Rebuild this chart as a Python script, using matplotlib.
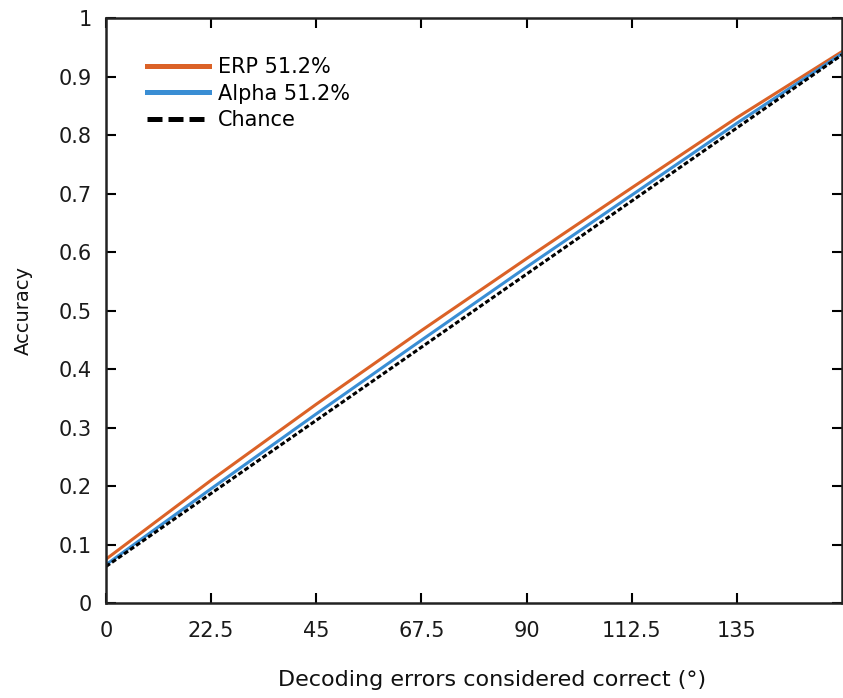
import matplotlib
matplotlib.use("Agg")
import matplotlib.pyplot as plt

plt.rcParams['font.family'] = ['DejaVu Sans']

# Data
errors = [0, 22.5, 45, 67.5, 90, 112.5, 135, 157.5]
erp = [0.075, 0.21, 0.34, 0.466, 0.589, 0.71, 0.83, 0.943]
alpha = [0.0655, 0.1955, 0.3235, 0.4495, 0.5745, 0.6975, 0.8205, 0.9395]
chance = [0.0625, 0.1875, 0.3125, 0.4375, 0.5625, 0.6875, 0.8125, 0.9375]

xticks = [0, 22.5, 45, 67.5, 90, 112.5, 135]
xticklabels = ['0', '22.5', '45', '67.5', '90', '112.5', '135']
yticks = [0, 0.1, 0.2, 0.3, 0.4, 0.5, 0.6, 0.7, 0.8, 0.9, 1]
yticklabels = ['0', '0.1', '0.2', '0.3', '0.4', '0.5', '0.6', '0.7', '0.8', '0.9', '1']

fig = plt.figure(figsize=(8.43, 6.98), dpi=100)
ax = fig.add_axes([0.1257, 0.136, 0.8733, 0.838])

ax.plot(errors, erp, color='#DB6227', lw=2.2, label='ERP 51.2%')
ax.plot(errors, alpha, color='#3A8ED4', lw=2.2, label='Alpha 51.2%')
ax.plot(errors, chance, color='black', lw=2.2, ls=(0, (1.6, 0.8)), label='Chance')

ax.set_xlim(0, 157.5)
ax.set_ylim(0, 1)
ax.set_xticks(xticks)
ax.set_xticklabels(xticklabels)
ax.set_yticks(yticks)
ax.set_yticklabels(yticklabels)
ax.tick_params(direction='in', length=7, width=1.5, labelsize=15,
               top=True, right=True, labelcolor='#1a1a1a')
ax.tick_params(axis='x', pad=13)
ax.tick_params(axis='y', pad=10)
for s in ax.spines.values():
    s.set_linewidth(1.8)
    s.set_color('#222222')

ax.set_xlabel('Decoding errors considered correct (°)', fontsize=16,
              labelpad=21, color='#111111')
ax.xaxis.label.set_x(0.525)
ax.set_ylabel('Accuracy', fontsize=14, labelpad=19, color='#111111')

leg = ax.legend(loc='upper left', frameon=False, fontsize=15, handlelength=3.0,
                handletextpad=0.4, labelspacing=0.3,
                bbox_to_anchor=(0.03, 0.965))
for h in leg.get_lines():
    h.set_linewidth(3.6)
leg.get_lines()[2].set_linestyle((0, (3.0, 1.2)))

fig.savefig('out.png', dpi=100)
